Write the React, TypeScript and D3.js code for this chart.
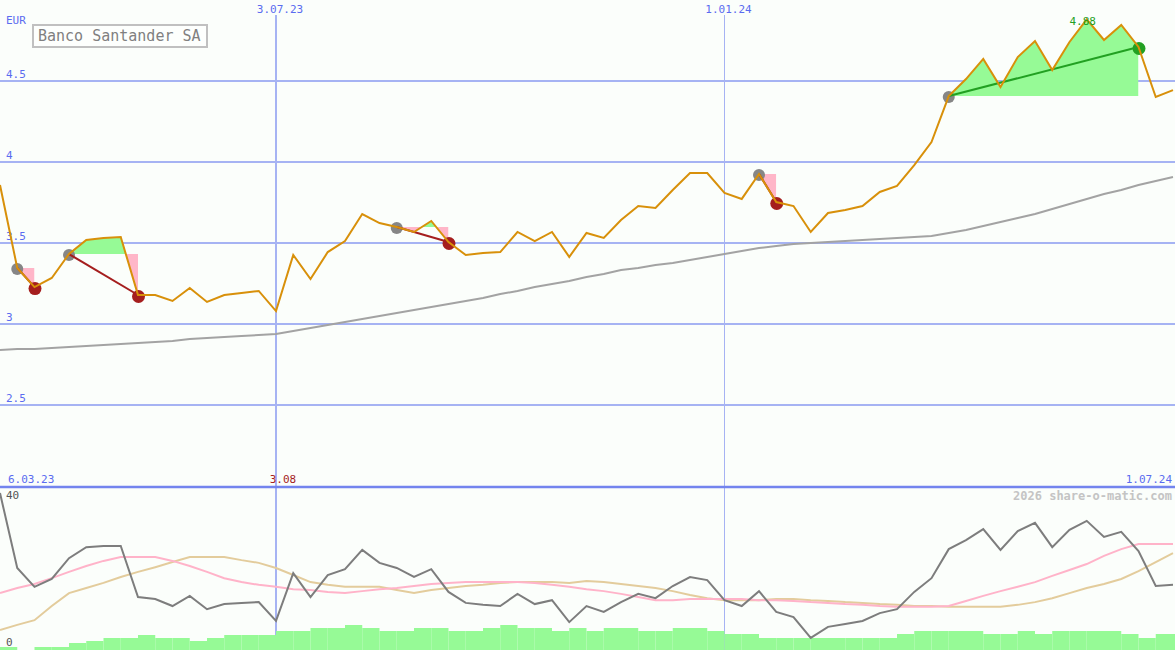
import React from "react";
import * as d3 from "d3";

const W = 1175;
const H = 650;

// weekly closes, Banco Santander SA (EUR), starting 13.03.23
const price = [
  3.858, 3.346, 3.228, 3.284, 3.432, 3.519, 3.531, 3.537, 3.179, 3.179,
  3.142, 3.222, 3.136, 3.179, 3.191, 3.204, 3.08, 3.426, 3.278, 3.444,
  3.512, 3.679, 3.623, 3.599, 3.568, 3.636, 3.506, 3.426, 3.438, 3.444,
  3.568, 3.512, 3.568, 3.414, 3.562, 3.531, 3.642, 3.728, 3.716, 3.827,
  3.932, 3.932, 3.809, 3.772, 3.926, 3.753, 3.728, 3.568, 3.685, 3.704,
  3.728, 3.815, 3.852, 3.981, 4.123, 4.407, 4.512, 4.636, 4.463, 4.648,
  4.747, 4.568, 4.741, 4.88, 4.753, 4.846, 4.71, 4.401, 4.444,
];

// long moving average
const movingAvg = [
  2.84, 2.846, 2.846, 2.852, 2.858, 2.864, 2.87, 2.877, 2.883, 2.889,
  2.895, 2.907, 2.914, 2.92, 2.926, 2.932, 2.938, 2.957, 2.975, 2.994,
  3.012, 3.031, 3.049, 3.068, 3.086, 3.105, 3.123, 3.142, 3.16, 3.185,
  3.204, 3.228, 3.247, 3.265, 3.29, 3.309, 3.333, 3.346, 3.364, 3.377,
  3.395, 3.414, 3.432, 3.451, 3.469, 3.481, 3.494, 3.5, 3.506, 3.512,
  3.519, 3.525, 3.531, 3.537, 3.543, 3.562, 3.58, 3.605, 3.63, 3.654,
  3.679, 3.71, 3.741, 3.772, 3.802, 3.827, 3.858, 3.883, 3.907,
];

// signals: [start index, end index]
const signalStarts = [1, 4, 23, 44, 55];
const signalEnds = [2, 8, 26, 45, 66];

// lower panel oscillator
const oscillator = [
  40.0, 20.9, 16.1, 18.1, 23.4, 26.2, 26.5, 26.5, 13.5, 13.0,
  11.2, 13.8, 10.4, 11.7, 12.0, 12.2, 7.4, 19.6, 13.5, 19.1,
  20.6, 25.5, 22.2, 20.9, 18.6, 20.6, 14.8, 12.0, 11.5, 11.2,
  14.3, 11.7, 12.7, 7.1, 11.2, 9.7, 12.2, 14.3, 13.2, 16.3,
  18.6, 17.8, 12.7, 11.2, 15.0, 9.7, 8.4, 3.1, 5.9, 6.6,
  7.4, 9.4, 10.4, 14.8, 18.3, 25.7, 28.0, 30.8, 25.5, 30.3,
  32.4, 26.2, 30.6, 32.9, 28.8, 30.1, 25.2, 16.3, 16.6,
];
const oscFast = [
  14.5, 15.8, 16.8, 18.3, 19.9, 21.4, 22.7, 23.7, 23.7, 23.7,
  22.7, 21.4, 19.9, 18.3, 17.3, 16.6, 16.1, 15.5, 15.3, 14.8,
  14.5, 15.0, 15.5, 15.8, 16.3, 16.8, 17.1, 17.3, 17.3, 17.3,
  17.3, 17.1, 16.6, 16.1, 15.5, 15.0, 14.3, 13.5, 12.7, 12.7,
  13.0, 13.0, 13.0, 13.0, 12.7, 12.7, 12.5, 12.2, 12.0, 11.7,
  11.5, 11.2, 11.0, 11.0, 11.0, 11.2, 12.5, 13.8, 15.0, 16.1,
  17.3, 18.9, 20.4, 21.9, 24.0, 25.7, 27.0, 27.0, 27.0,
];
const oscSlow = [
  5.1, 6.4, 7.6, 11.2, 14.5, 15.8, 17.1, 18.6, 19.9, 21.1,
  22.4, 23.7, 23.7, 23.7, 22.9, 22.2, 20.9, 19.1, 17.3, 16.6,
  16.1, 16.1, 16.1, 15.3, 14.5, 15.3, 15.8, 16.3, 16.6, 17.1,
  17.3, 17.3, 17.3, 17.1, 17.6, 17.3, 16.8, 16.3, 15.8, 15.0,
  14.0, 13.2, 12.7, 12.7, 12.7, 13.0, 13.0, 12.7, 12.5, 12.2,
  12.0, 11.7, 11.5, 11.2, 11.2, 11.0, 11.0, 11.0, 11.0, 11.5,
  12.2, 13.2, 14.5, 15.8, 16.8, 18.1, 20.1, 22.4, 24.7,
];
const volume = [
  3, 0, 3, 3, 7, 9, 12, 12, 15, 12,
  12, 9, 12, 15, 15, 15, 19, 19, 22, 22,
  25, 22, 19, 19, 22, 22, 19, 19, 22, 25,
  22, 22, 19, 22, 19, 22, 22, 19, 19, 22,
  22, 19, 16, 16, 12, 12, 12, 12, 12, 12,
  12, 12, 16, 19, 19, 19, 19, 16, 16, 19,
  16, 19, 19, 19, 19, 16, 12, 16,
];

const yTicks = [2.5, 3, 3.5, 4, 4.5];
const vLineDates = [new Date(2023, 6, 3), new Date(2024, 0, 1)];
const vLineLabels = ["3.07.23", "1.01.24"];
const vLineWidths = [2, 1];
const startLabel = "6.03.23";
const endLabel = "1.07.24";
const markerLabel = "3.08";
const title = "Banco Santander SA";
const currency = "EUR";
const credit = "2026 share-o-matic.com";
const oscTicks = [40, 0];

const firstDate = new Date(2023, 2, 13);
const dates = price.map((_, i) => d3.timeWeek.offset(firstDate, i));

const MONO = "'DejaVu Sans Mono', monospace";
const BLUE = "#5a6cf0";
const GRID = "#a6b3f3";
const ORANGE = "#d8900a";
const DARKRED = "#a51e1e";
const GREEN = "#22a022";
const PALEGREEN = "#96fa96";
const PINK = "#ffb6c8";

export default function App() {
  const x = d3.scaleTime().domain([dates[0], dates[dates.length - 1]]).range([0, 1173]);
  const y = d3.scaleLinear().domain([2.5, 4.5]).range([405, 81]);
  const yOsc = d3.scaleLinear().domain([0, 40]).range([650, 493]);
  const yVol = d3.scaleLinear().domain([0, 100]).range([650, 550]);

  const priceLine = d3.line<number>().x((_, i) => x(dates[i])).y((d) => y(d));
  const maLine = d3.line<number>().x((_, i) => x(dates[i])).y((d) => y(d));
  const oscLine = d3.line<number>().x((_, i) => x(dates[i])).y((d) => yOsc(d));

  const maxIdx = price.indexOf(d3.max(price) as number);

  const signals = signalStarts.map((s, k) => {
    const e = signalEnds[k];
    const level = price[s];
    const lvlY = y(level);
    const pts: [number, number][] = [];
    for (let i = s; i <= e; i++) pts.push([x(dates[i]), y(price[i])]);
    pts.push([x(dates[e]), lvlY]);
    pts.push([x(dates[s]), lvlY]);
    const poly = "M" + pts.map((p) => p.join(",")).join("L") + "Z";
    const gain = price[e] > level;
    return { s, e, lvlY, poly, gain, x0: x(dates[s]), x1: x(dates[e]) };
  });

  return (
    <svg
      width={W}
      height={H}
      style={{ position: "absolute", left: 0, top: 0, display: "block" }}
      fontFamily={MONO}
    >
      <defs>
        {signals.map((sg, k) => (
          <React.Fragment key={k}>
            <clipPath id={`above${k}`}>
              <rect x={sg.x0} y={0} width={sg.x1 - sg.x0} height={sg.lvlY} />
            </clipPath>
            <clipPath id={`below${k}`}>
              <rect x={sg.x0} y={sg.lvlY} width={sg.x1 - sg.x0} height={487 - sg.lvlY} />
            </clipPath>
          </React.Fragment>
        ))}
      </defs>
      <rect x={0} y={0} width={W} height={H} fill="#fbfefb" />

      {/* horizontal grid */}
      {yTicks.map((t) => (
        <g key={t}>
          <line x1={0} x2={W} y1={y(t)} y2={y(t)} stroke={GRID} strokeWidth={2} />
          <text x={6} y={y(t) - 3} fontSize={11} fill={BLUE}>
            {t}
          </text>
        </g>
      ))}
      <text x={6} y={24} fontSize={11} fill={BLUE}>
        {currency}
      </text>

      {/* vertical lines */}
      {vLineDates.map((d, k) => (
        <g key={k}>
          <line
            x1={x(d)}
            x2={x(d)}
            y1={15}
            y2={650}
            stroke={GRID}
            strokeWidth={vLineWidths[k]}
          />
          <text x={x(d) + 4} y={13} fontSize={11} fill={BLUE} textAnchor="middle">
            {vLineLabels[k]}
          </text>
        </g>
      ))}

      {/* separator */}
      <line x1={0} x2={W} y1={487} y2={487} stroke="#7384ee" strokeWidth={2.5} />
      <text x={8} y={483} fontSize={11} fill={BLUE}>
        {startLabel}
      </text>
      <text x={1172} y={483} fontSize={11} fill={BLUE} textAnchor="end">
        {endLabel}
      </text>
      <text x={x(vLineDates[0]) + 7} y={483} fontSize={11} fill={DARKRED} textAnchor="middle">
        {markerLabel}
      </text>

      {/* legend */}
      <rect x={33} y={25} width={174} height={22} fill="#fdfffd" stroke="#c0c0c0" strokeWidth={2} />
      <text x={38} y={41} fontSize={15} fill="#808080">
        {title}
      </text>

      {/* moving average */}
      <path d={maLine(movingAvg) || ""} fill="none" stroke="#a3a3a3" strokeWidth={2} />

      {/* signal fills */}
      {signals.map((sg, k) => (
        <g key={k}>
          <path d={sg.poly} fill={PALEGREEN} clipPath={`url(#above${k})`} />
          <path d={sg.poly} fill={PINK} clipPath={`url(#below${k})`} />
        </g>
      ))}

      {/* signal dots & lines */}
      {signals.map((sg, k) => (
        <g key={k}>
          <circle cx={sg.x0} cy={sg.lvlY + 1} r={6} fill="#868686" />
          <circle cx={sg.x1 + 0.5} cy={y(price[sg.e]) + 1.5} r={6.5} fill={sg.gain ? GREEN : DARKRED} />
          <line
            x1={sg.x0}
            y1={sg.lvlY}
            x2={sg.x1}
            y2={y(price[sg.e])}
            stroke={sg.gain ? GREEN : DARKRED}
            strokeWidth={2}
          />
        </g>
      ))}

      {/* price */}
      <path d={priceLine(price) || ""} fill="none" stroke={ORANGE} strokeWidth={2} />
      <text
        x={x(dates[maxIdx]) - 4}
        y={25}
        fontSize={11}
        fill={GREEN}
        textAnchor="middle"
      >
        {(price[maxIdx]).toFixed(2)}
      </text>

      {/* lower panel */}
      {volume.map((v, i) =>
        v > 0 ? (
          <rect
            key={i}
            x={x(dates[i])}
            y={yVol(v)}
            width={(i + 1 < dates.length ? x(dates[i + 1]) : W) - x(dates[i]) + (i === volume.length - 1 ? 2 : 0)}
            height={650 - yVol(v)}
            fill={PALEGREEN}
          />
        ) : null
      )}
      <path d={oscLine(oscSlow) || ""} fill="none" stroke="#e3cc9c" strokeWidth={2} />
      <path d={oscLine(oscFast) || ""} fill="none" stroke="#ffb3c9" strokeWidth={2} />
      <path d={oscLine(oscillator) || ""} fill="none" stroke="#7d7d7d" strokeWidth={2} />
      {oscTicks.map((t) => (
        <text key={t} x={6} y={yOsc(t) + (t === 0 ? -4 : 6)} fontSize={11} fill="#555">
          {t}
        </text>
      ))}
      <text x={1172} y={500} fontSize={12} fontWeight="bold" fill="#c4c4c4" textAnchor="end">
        {credit}
      </text>
    </svg>
  );
}
